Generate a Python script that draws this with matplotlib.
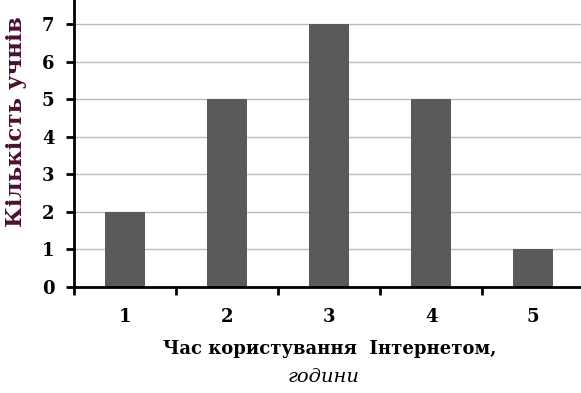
import matplotlib
matplotlib.use("Agg")
import matplotlib.pyplot as plt

hours = [1, 2, 3, 4, 5]
students = [2, 5, 7, 5, 1]
y_ticks = [0, 1, 2, 3, 4, 5, 6, 7]
x_boundaries = [0.5, 1.5, 2.5, 3.5, 4.5]

plt.rcParams["font.family"] = ["DejaVu Serif"]

fig = plt.figure(figsize=(5.81, 3.93), dpi=100)
ax = fig.add_axes([74 / 581, 106 / 393, 1 - 74 / 581, 1 - 106 / 393])

ax.bar(hours, students, width=0.4, color="#5a5a5a", zorder=2)
ax.set_xlim(0.5, 5.47)
ax.set_ylim(0, 7.64)

ax.set_yticks(y_ticks)
ax.set_yticklabels([str(v) for v in y_ticks], fontweight="bold", fontsize=13)
ax.yaxis.grid(True, color="#bbbbbb", lw=1.0, zorder=0)
ax.set_axisbelow(True)

# ticks sit between the bars, labels under the bars
ax.set_xticks(x_boundaries)
ax.set_xticklabels([])
ax.set_xticks(hours, minor=True)
ax.set_xticklabels([str(h) for h in hours], minor=True, fontweight="bold", fontsize=13)
ax.tick_params(axis="x", which="minor", length=0, pad=15)
ax.tick_params(axis="x", which="major", length=6, width=2, direction="out")
ax.tick_params(axis="y", length=6, width=2, direction="out", pad=8)

for s in ["top", "right"]:
    ax.spines[s].set_visible(False)
ax.spines["left"].set_linewidth(2)
ax.spines["bottom"].set_linewidth(2)

fig.text(330 / 581, 1 - 349 / 393, "Час користування  Інтернетом,", ha="center", va="center",
         fontsize=13, fontweight="bold")
fig.text(324 / 581, 1 - 377 / 393, "години", ha="center", va="center",
         fontsize=14, style="italic")
fig.text(16 / 581, 1 - 122 / 393, "Кількість учнів", ha="center", va="center", rotation=90,
         fontsize=16.5, fontweight="bold", color="#4a1030")

fig.savefig("out.png", dpi=100)
